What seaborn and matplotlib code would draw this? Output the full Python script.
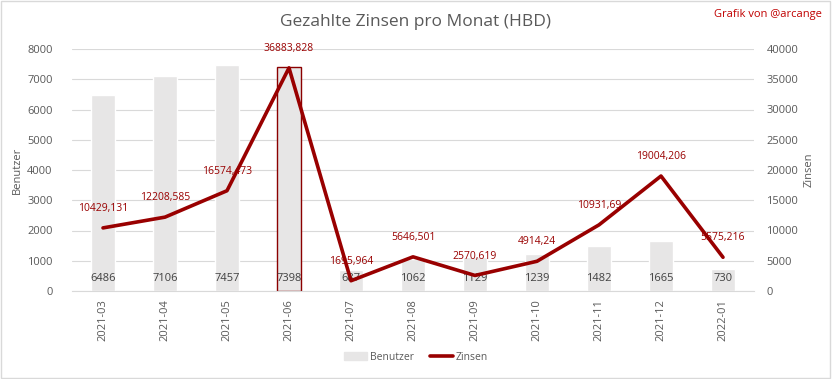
import matplotlib.pyplot as plt
import pandas as pd
import seaborn as sns
from matplotlib.patches import Rectangle

months = ['2021-03', '2021-04', '2021-05', '2021-06', '2021-07', '2021-08',
          '2021-09', '2021-10', '2021-11', '2021-12', '2022-01']
benutzer = [6486, 7106, 7457, 7398, 687, 1062, 1129, 1239, 1482, 1665, 730]
zinsen = [10429.131, 12208.585, 16574.473, 36883.828, 1695.964, 5646.501,
          2570.619, 4914.24, 10931.69, 19004.206, 5575.216]
zinsen_labels = ['10429,131', '12208,585', '16574,473', '36883,828', '1695,964',
                 '5646,501', '2570,619', '4914,24', '10931,69', '19004,206', '5575,216']

df = pd.DataFrame({'month': months, 'benutzer': benutzer, 'zinsen': zinsen})

sns.set_style('white')
plt.rcParams['font.family'] = ['Open Sans', 'DejaVu Sans']

bar_color = '#e7e6e6'
line_color = '#990000'
text_gray = '#595959'
grid_color = '#d9d9d9'

fig = plt.figure(figsize=(8.32, 3.79), dpi=100)
ax = fig.add_axes([72 / 832, 1 - 291 / 379, 682 / 832, 242 / 379])

sns.barplot(data=df, x='month', y='benutzer', color=bar_color, width=0.4,
            saturation=1, ax=ax, zorder=2)
# selected bar outline (2021-06)
sel = ax.patches[3]
sel.set_edgecolor('#8b0000')
sel.set_linewidth(1.0)

for p, v in zip(ax.patches, benutzer):
    ax.text(p.get_x() + p.get_width() / 2, 400, str(v), ha='center', va='center',
            fontsize=8, color='#404040', zorder=5)

ax.set_ylim(0, 8000)
ax.set_yticks(range(0, 8001, 1000))
ax.set_xlim(-0.5, len(months) - 0.5)
ax.grid(axis='y', color=grid_color, linewidth=0.8, zorder=0)
ax.set_axisbelow(True)
ax.set_xlabel('')
ax.set_ylabel('Benutzer', fontsize=8, color=text_gray, labelpad=3)
ax.tick_params(axis='x', labelrotation=90, length=0, labelsize=8, labelcolor=text_gray, pad=6)
ax.tick_params(axis='y', length=0, labelsize=8, labelcolor=text_gray, pad=14)
for s in ['top', 'left', 'right']:
    ax.spines[s].set_visible(False)
ax.spines['bottom'].set_color(grid_color)

ax2 = ax.twinx()
sns.lineplot(data=df, x='month', y='zinsen', color=line_color, linewidth=2.6,
             ax=ax2, sort=False, zorder=4)
ax2.set_ylim(0, 40000)
ax2.set_yticks(range(0, 40001, 5000))
ax2.set_xlim(-0.5, len(months) - 0.5)
ax2.set_ylabel('Zinsen', fontsize=8, color=text_gray, labelpad=4)
ax2.tick_params(axis='y', length=0, labelsize=8, labelcolor=text_gray, pad=9)
for s in ['top', 'left', 'right', 'bottom']:
    ax2.spines[s].set_visible(False)

for i, (v, lab) in enumerate(zip(zinsen, zinsen_labels)):
    ax2.annotate(lab, (i, v), xytext=(0, 10), textcoords='offset points',
                 ha='center', va='bottom', fontsize=7.5, color=line_color, zorder=6)

fig.text(0.5, 1 - 22 / 379, 'Gezahlte Zinsen pro Monat (HBD)', ha='center', va='center',
         fontsize=12.5, color=text_gray)
fig.text(1 - 10 / 832, 1 - 15 / 379, 'Grafik von @arcange', ha='right', va='center',
         fontsize=8, color='#c00000')

handles = [Rectangle((0, 0), 1, 1, color=bar_color),
           plt.Line2D([0], [0], color=line_color, linewidth=2.6)]
fig.legend(handles, ['Benutzer', 'Zinsen'], loc='center', ncol=2,
           bbox_to_anchor=(0.5, 1 - 357 / 379), frameon=False, fontsize=7.5,
           labelcolor=text_gray, handlelength=2.2, columnspacing=1.5, handletextpad=0.3)

fig.patches.append(Rectangle((0.001, 0.002), 0.997, 0.995, transform=fig.transFigure,
                             fill=False, edgecolor='#d9d9d9', linewidth=1))

fig.savefig('out.png', dpi=100)
